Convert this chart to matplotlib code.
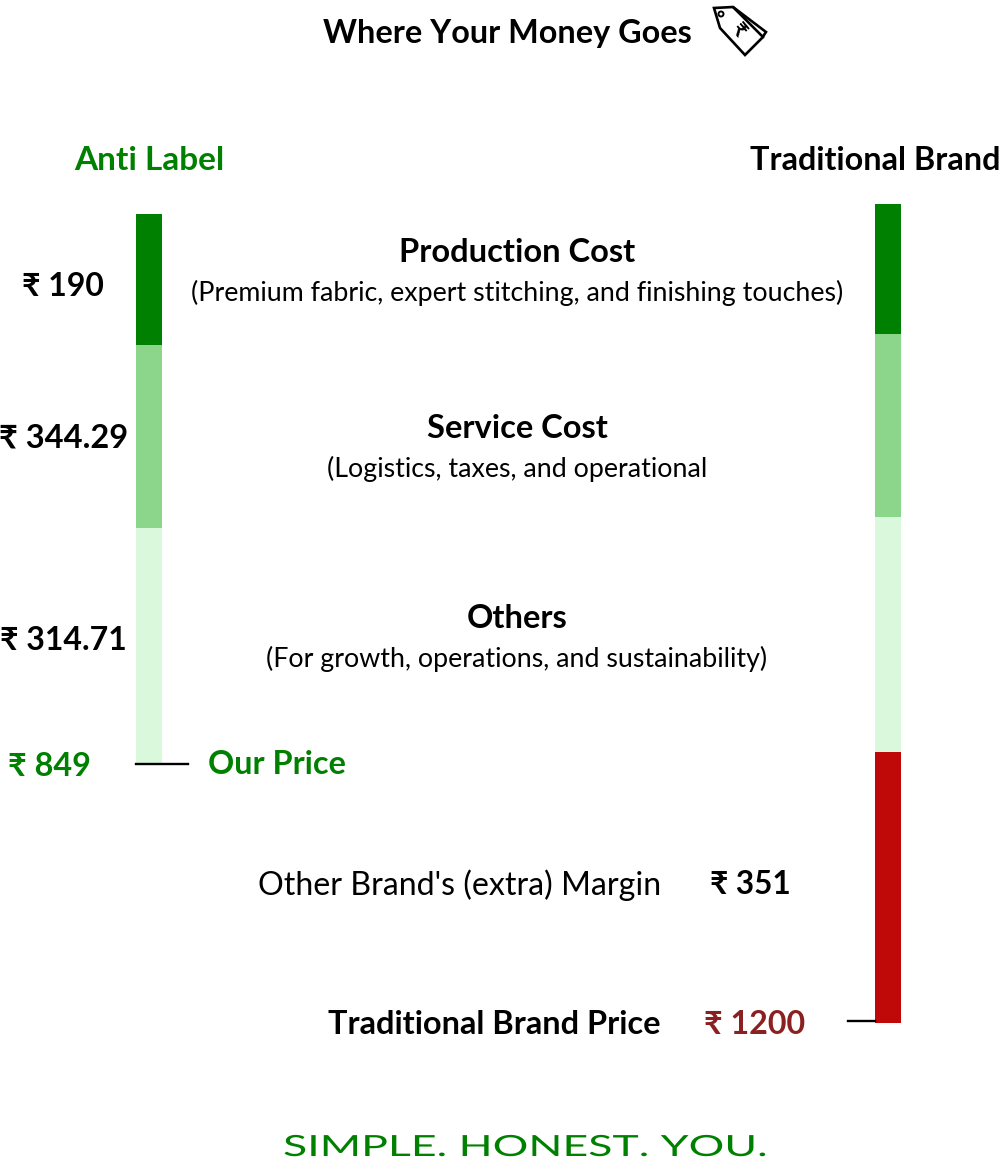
import matplotlib
matplotlib.use('Agg')
import matplotlib.pyplot as plt
from matplotlib.patches import Polygon, Circle
from matplotlib.patheffects import AbstractPathEffect
from matplotlib.transforms import Affine2D

plt.rcParams['font.family'] = ['Lato', 'Noto Sans', 'DejaVu Sans']

# segment heights as drawn in the picture (not proportional to the prices)
left_heights = [131, 183, 236]
right_heights = [130, 183, 235, 271]
left_colors = ['#008000', '#8CD68C', '#D9F8DC']
right_colors = ['#008000', '#8CD68C', '#D9F8DC', '#BF0808']
left_prices = ['₹ 190', '₹ 344.29', '₹ 314.71']
left_price_sizes = [23, 23.5, 23]
cost_names = ['Production Cost', 'Service Cost', 'Others']
cost_notes = ['(Premium fabric, expert stitching, and finishing touches)',
              '(Logistics, taxes, and operational',
              '(For growth, operations, and sustainability)']

GREEN = '#008000'
DARKRED = '#8B2020'


# stretch text sideways, for the wide logo lettering
class Stretch(AbstractPathEffect):
    def __init__(self, sx):
        super().__init__()
        self.sx = sx

    def draw_path(self, renderer, gc, tpath, affine, rgbFace=None):
        renderer.draw_path(gc, tpath, Affine2D().scale(self.sx, 1) + affine, rgbFace)


fig = plt.figure(figsize=(10, 11.59), dpi=100)
ax = fig.add_axes([0, 0, 1, 1])
ax.set_xlim(0, 1000)
ax.set_ylim(1159, 0)
ax.axis('off')

# bars
bottom = 214
for h, c in zip(left_heights, left_colors):
    ax.bar(149, h, width=26, bottom=bottom, color=c, linewidth=0)
    bottom += h
bottom = 204
for h, c in zip(right_heights, right_colors):
    ax.bar(887.5, h, width=26, bottom=bottom, color=c, linewidth=0)
    bottom += h

# price ticks
ax.plot([136, 188], [764, 764], color='black', lw=1.7)
ax.plot([848, 875], [1020.5, 1020.5], color='black', lw=1.7)

# headings
ax.text(507.5, 33, 'Where Your Money Goes', fontsize=23.3, fontweight='bold', ha='center', va='center')
ax.text(149.5, 161, 'Anti Label', fontsize=24, fontweight='bold', color=GREEN, ha='center', va='center')
ax.text(875.5, 161, 'Traditional Brand', fontsize=23.3, fontweight='bold', ha='center', va='center')

# cost rows
for p, s, x, y in zip(left_prices, left_price_sizes, [62.5, 63.5, 63], [286, 438, 640]):
    ax.text(x, y, p, fontsize=s, fontweight='bold', ha='center', va='center')
for n, d, y in zip(cost_names, cost_notes, [253, 429, 619]):
    ax.text(517, y, n, fontsize=23.5, fontweight='bold', ha='center', va='center')
    ax.text(517, y + 40, d, fontsize=19.3, ha='center', va='center')

ax.text(49, 766, '₹ 849', fontsize=23.3, fontweight='bold', color=GREEN, ha='center', va='center')
ax.text(208, 765, 'Our Price', fontsize=23.3, fontweight='bold', color=GREEN, ha='left', va='center')

ax.text(661, 885, "Other Brand's (extra) Margin", fontsize=23.1, ha='right', va='center')
ax.text(750, 885, '₹ 351', fontsize=22.8, fontweight='bold', ha='center', va='center')
ax.text(661, 1024, 'Traditional Brand Price', fontsize=23.4, fontweight='bold', ha='right', va='center')
ax.text(754.5, 1024, '₹ 1200', fontsize=23.2, fontweight='bold', color=DARKRED, ha='center', va='center')

# price tag icon
ax.add_patch(Polygon([(733, 7), (766, 32), (762, 38)], closed=False, fill=False, ec='black', lw=1.9))
ax.add_patch(Polygon([(714, 8), (733, 7), (763, 37), (745, 55), (720, 28)], closed=True, fill=False, ec='black', lw=1.9))
ax.add_patch(Circle((721, 14), 2.5, fill=False, ec='black', lw=1.4))
ax.text(738, 31, '₹', fontsize=15, fontweight='bold', rotation=-50, ha='center', va='center')

# tagline
t = ax.text(283, 1148, 'SIMPLE. HONEST. YOU.', fontsize=21, fontweight='normal', family=['Lato', 'DejaVu Sans'],
            color=GREEN, ha='left', va='center')
t.set_path_effects([Stretch(1.53)])

fig.savefig('out.png', dpi=100)
